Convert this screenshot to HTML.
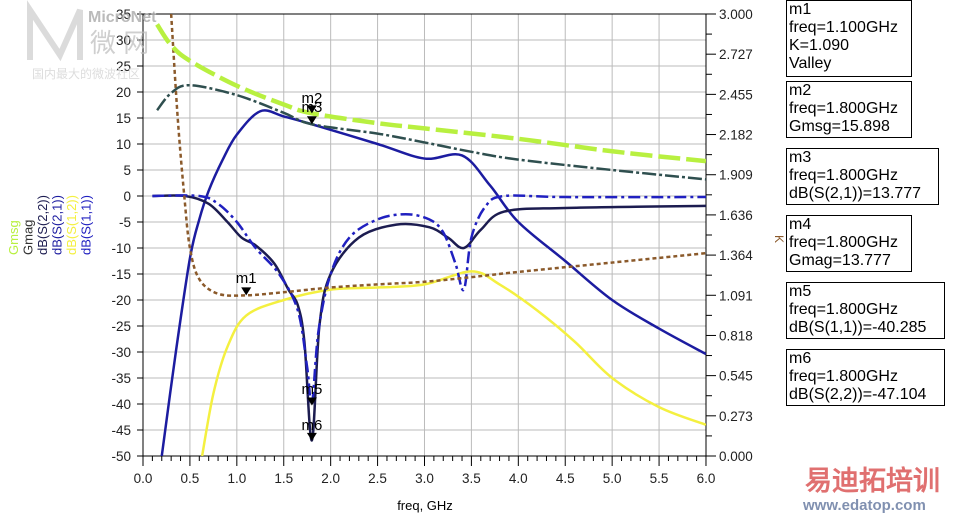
<!DOCTYPE html>
<html><head><meta charset="utf-8"><style>
body{margin:0;background:#fff;width:957px;height:516px;overflow:hidden;font-family:"Liberation Sans",sans-serif}
.box{position:absolute;left:786px;border:1px solid #000;font-size:16px;line-height:18px;padding:0 0 0 2px;box-sizing:border-box;background:#fff}
</style></head><body>
<svg id="s" width="957" height="516" style="position:absolute;left:0;top:0" font-family="Liberation Sans, sans-serif">
</svg>
<div class="box" style="top:0;width:126px;height:77px">m1<br>freq=1.100GHz<br>K=1.090<br>Valley</div>
<div class="box" style="top:81px;width:126px;height:57px">m2<br>freq=1.800GHz<br>Gmsg=15.898</div>
<div class="box" style="top:148px;width:153px;height:57px">m3<br>freq=1.800GHz<br>dB(S(2,1))=13.777</div>
<div class="box" style="top:215px;width:126px;height:57px">m4<br>freq=1.800GHz<br>Gmag=13.777</div>
<div class="box" style="top:282px;width:159px;height:57px">m5<br>freq=1.800GHz<br>dB(S(1,1))=-40.285</div>
<div class="box" style="top:349px;width:159px;height:57px">m6<br>freq=1.800GHz<br>dB(S(2,2))=-47.104</div>
<script>
const s=document.getElementById('s');let h='';
const X=f=>143+93.83*f, Y=d=>14+(35-d)*5.2;
for(let i=1;i<12;i++)h+=`<line x1="${X(i/2)}" y1="14" x2="${X(i/2)}" y2="456" stroke="#bbb"/>`;
for(let d=-45;d<35;d+=5)h+=`<line x1="143" y1="${Y(d)}" x2="706" y2="${Y(d)}" stroke="#bbb"/>`;
h+=`<rect x="143" y="14" width="563" height="442" fill="none" stroke="#000"/>`;
for(let d=-50;d<=35;d+=5){h+=`<line x1="137" y1="${Y(d)}" x2="143" y2="${Y(d)}" stroke="#000"/><text x="131" y="${Y(d)+5}" font-size="13.5" text-anchor="end" fill="#222">${d}</text>`;}
for(let i=0;i<=60;i++){let x=X(i/10);h+=`<line x1="${x}" y1="456" x2="${x}" y2="${i%5?461:466}" stroke="#000"/>`;}
for(let i=0;i<=12;i++)h+=`<text x="${X(i/2)}" y="483" font-size="13.5" text-anchor="middle" fill="#222">${(i/2).toFixed(1)}</text>`;
h+=`<text x="425" y="510" font-size="13" text-anchor="middle">freq, GHz</text>`;
const kl=["0.000","0.273","0.545","0.818","1.091","1.364","1.636","1.909","2.182","2.455","2.727","3.000"];
for(let i=0;i<=22;i++){let y=456-i*442/22;h+=`<line x1="706" y1="${y}" x2="${i%2?712:716}" y2="${y}" stroke="#000"/>`;if(i%2==0)h+=`<text x="719" y="${y+5}" font-size="13.5" fill="#222">${kl[i/2]}</text>`;}
h+=`<text x="775" y="235" font-size="12" fill="#8b5a2b" transform="rotate(90 775 235)">K</text>`;
function P(pts){let q=pts.map(p=>[X(p[0]),Y(p[1])]);let d=`M${q[0]}`;for(let i=0;i<q.length-1;i++){let p0=q[i-1]||q[i],p1=q[i],p2=q[i+1],p3=q[i+2]||p2;d+=`C${p1[0]+(p2[0]-p0[0])/6},${p1[1]+(p2[1]-p0[1])/6} ${p2[0]-(p3[0]-p1[0])/6},${p2[1]-(p3[1]-p1[1])/6} ${p2[0]},${p2[1]}`;}return d;}
function L(pts,c,w,da){h+=`<path d="${P(pts)}" fill="none" stroke="${c}" stroke-width="${w}" ${da?`stroke-dasharray="${da}"`:''}/>`;}
h+='<g clip-path="url(#c)">';
L([[0.2,-50],[0.35,-30],[0.5,-12],[0.6,-4.5],[0.7,1],[0.85,7],[1.0,11.8],[1.25,16.3],[1.5,15.3],[1.8,13.8],[2.5,10],[3,7.2],[3.4,7.8],[3.7,2],[4,-5],[4.5,-12.5],[5,-20],[5.5,-25.5],[6,-30.4]],"#1c1ca0",2.5);
L([[0.63,-50],[0.75,-38],[0.9,-29],[1.1,-23],[1.5,-20],[2,-18],[2.5,-17.6],[3,-17],[3.5,-14.5],[3.8,-17],[4.2,-22],[4.6,-28],[5,-35],[5.5,-40.6],[6,-44]],"#f4f040",2.5);
L([[0.1,0],[0.45,0],[0.7,-1.5],[0.9,-5],[1.05,-8],[1.2,-9.5],[1.4,-13],[1.55,-18],[1.65,-21],[1.72,-28],[1.8,-47],[1.88,-25],[2,-15],[2.3,-8],[2.7,-5.5],[3.05,-6],[3.25,-8],[3.42,-10],[3.6,-6.5],[3.85,-3],[4.5,-2.3],[6,-1.9]],"#1c1c50",2.5);
L([[0.1,0],[0.6,0],[0.8,-1.5],[1,-5],[1.2,-10],[1.45,-15],[1.65,-22],[1.75,-33],[1.8,-40],[1.87,-26],[2,-15],[2.2,-8],[2.5,-4.5],[2.8,-3.5],[3.05,-4.5],[3.2,-7],[3.33,-13],[3.42,-18],[3.5,-8],[3.65,-2],[3.85,0],[4.5,-0.2],[6,-0.2]],"#2020c0",2.5,"12 4 3 4");
L([[0.3,35],[0.37,15],[0.44,0],[0.5,-10],[0.6,-16],[0.8,-18.8],[1.1,-19.1],[1.5,-18.5],[2,-17.6],[2.5,-17],[3,-16.5],[3.5,-15.6],[4,-14.6],[5,-12.8],[6,-11]],"#8b5a2b",2.5,"4 3");
L([[0.15,16.5],[0.3,19.8],[0.5,21.3],[1,19.4],[1.5,16],[1.8,13.8],[2.5,12],[3,10.3],[3.5,8.5],[4,7],[5,5],[6,3.2]],"#2f4f4f",2.5,"14 3 3 3");
L([[0.15,33],[0.3,29],[0.5,26],[1,21.2],[1.5,17.6],[1.8,15.9],[2.5,14],[3,13],[4,11],[5,8.6],[6,6.7]],"#b8f040",4.5,"22 6");
h+='</g><defs><clipPath id="c"><rect x="143" y="14" width="563" height="442"/></clipPath></defs>';
function M(f,d,lbl,ly){let x=X(f),y=Y(d);h+=`<path d="M${x-5},${y-8}h10l-5,8z" fill="#000"/><text x="${x}" y="${ly}" font-size="15" text-anchor="middle">${lbl}</text>`;}
M(1.1,-19.1,"m1",283);M(1.8,15.9,"m2",103);M(1.8,13.8,"m3",112);M(1.8,-40.3,"m5",394);M(1.8,-47.1,"m6",430);
const lg=[["Gmsg","#b8f040"],["Gmag","#333"],["dB(S(2,2))","#1c1c50"],["dB(S(2,1))","#1c1ca0"],["dB(S(1,2))","#f4f040"],["dB(S(1,1))","#2020c0"]];
lg.forEach((l,i)=>{let x=18+i*14.5;h+=`<text x="${x}" y="255" font-size="13" fill="${l[1]}" transform="rotate(-90 ${x} 255)">${l[0]}</text>`;});
h+=`<text x="88" y="22" font-size="16" font-weight="bold" fill="#aaa" opacity="0.8">MicroNet</text><text x="90" y="52" font-size="26" fill="#bbb" opacity="0.7">微 网</text><text x="32" y="78" font-size="12" fill="#ddd">国内最大的微波社区</text>`;
h+=`<path d="M30,60L30,10L60,55L80,10L80,60" fill="none" stroke="#ccc" stroke-width="6" opacity="0.7"/>`;
h+=`<text x="805" y="490" font-size="27" font-weight="bold" fill="#e07070">易迪拓培训</text><text x="803" y="510" font-size="15" font-weight="bold" fill="#8090b0">www.edatop.com</text>`;
s.innerHTML=h;
</script>
</body></html>
